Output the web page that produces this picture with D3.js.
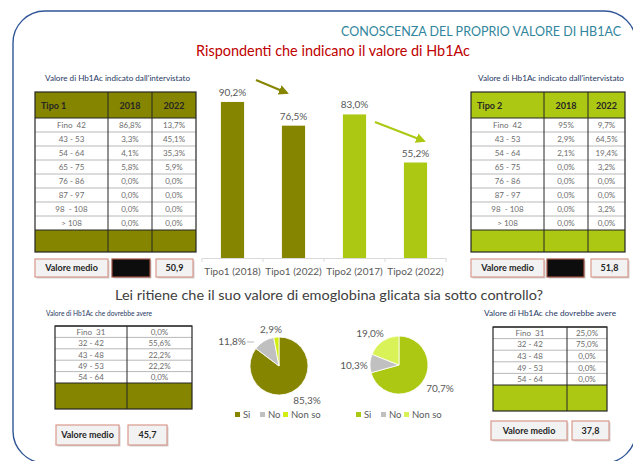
<!DOCTYPE html>
<html>
<head>
<meta charset="utf-8">
<script src="https://cdn.jsdelivr.net/npm/d3@7"></script>
<style>
  html, body { margin: 0; padding: 0; background: #ffffff; }
  svg { display: block; }
  text { font-family: Lato, "Open Sans", sans-serif; }
</style>
</head>
<body>
<svg id="chart" width="633" height="461"></svg>
<script>
// ---- data ----
const barCategories = ["Tipo1 (2018)", "Tipo1 (2022)", "Tipo2 (2017)", "Tipo2 (2022)"];
const barValues = [90.2, 76.5, 83.0, 55.2];
const barLabels = ["90,2%", "76,5%", "83,0%", "55,2%"];

const rangesReported = ["Fino  42", "43 - 53", "54 - 64", "65 - 75", "76 - 86", "87 - 97", "98  - 108", "> 108"];
const tipo1_2018 = ["86,8%", "3,3%", "4,1%", "5,8%", "0,0%", "0,0%", "0,0%", "0,0%"];
const tipo1_2022 = ["13,7%", "45,1%", "35,3%", "5,9%", "0,0%", "0,0%", "0,0%", "0,0%"];
const tipo2_2018 = ["95%", "2,9%", "2,1%", "0,0%", "0,0%", "0,0%", "0,0%", "0,0%"];
const tipo2_2022 = ["9,7%", "64,5%", "19,4%", "3,2%", "0,0%", "0,0%", "3,2%", "0,0%"];
const yearHeaders = ["2018", "2022"];
const meanTipo1 = "50,9";
const meanTipo2 = "51,8";

const rangesTarget = ["Fino  31", "32 - 42", "43 - 48", "49 - 53", "54 - 64"];
const targetTipo1 = ["0,0%", "55,6%", "22,2%", "22,2%", "0,0%"];
const targetTipo2 = ["25,0%", "75,0%", "0,0%", "0,0%", "0,0%"];
const meanTargetTipo1 = "45,7";
const meanTargetTipo2 = "37,8";

const pieCategories = ["Si", "No", "Non so"];
const pieTipo1 = [85.3, 11.8, 2.9];
const pieTipo2 = [70.7, 10.3, 19.0];
const pieLabelsTipo1 = ["85,3%", "11,8%", "2,9%"];
const pieLabelsTipo2 = ["70,7%", "10,3%", "19,0%"];

// ---- palette ----
const OLIVE = "#858500";
const LIME = "#adc813";
const GREY = "#c0c0c0";
const TXT = "#595959";

const svg = d3.select("#chart");

// outer rounded frame
svg.append("rect")
  .attr("x", 13).attr("y", 11).attr("width", 623).attr("height", 452)
  .attr("rx", 32).attr("ry", 32)
  .attr("fill", "none").attr("stroke", "#2f5597").attr("stroke-width", 1.4);

// titles
svg.append("text")
  .attr("x", 621).attr("y", 36).attr("text-anchor", "end")
  .attr("fill", "#31859c").attr("font-size", 12.5)
  .attr("textLength", 280).attr("lengthAdjust", "spacing")
  .text("CONOSCENZA DEL PROPRIO VALORE DI HB1AC");

svg.append("text")
  .attr("x", 333).attr("y", 56).attr("text-anchor", "middle")
  .attr("fill", "#c00000").attr("font-size", 15)
  .attr("textLength", 274).attr("lengthAdjust", "spacingAndGlyphs")
  .text("Rispondenti che indicano il valore di Hb1Ac");

// ---- bar chart ----
const x = d3.scaleBand().domain(barCategories).range([202, 446])
  .paddingInner(0.62).paddingOuter(0.31);
const y = d3.scaleLinear().domain([0, 100]).range([258, 85]);
const barColor = d3.scaleOrdinal().domain(barCategories).range([OLIVE, OLIVE, LIME, LIME]);

const bars = svg.append("g");
bars.selectAll("rect").data(barValues).join("rect")
  .attr("x", (d, i) => x(barCategories[i]))
  .attr("width", x.bandwidth())
  .attr("y", d => y(d))
  .attr("height", d => y(0) - y(d))
  .attr("fill", (d, i) => barColor(barCategories[i]));

bars.selectAll("text").data(barValues).join("text")
  .attr("x", (d, i) => x(barCategories[i]) + x.bandwidth() / 2)
  .attr("y", d => y(d) - 6)
  .attr("text-anchor", "middle")
  .attr("font-family", "Liberation Sans, Arial, sans-serif")
  .attr("font-size", 10).attr("fill", TXT)
  .text((d, i) => barLabels[i]);

const xAxis = svg.append("g").attr("transform", `translate(0,${y(0)})`)
  .call(d3.axisBottom(x).tickSize(0).tickSizeOuter(0).tickPadding(10));
xAxis.select(".domain").attr("stroke", "#d9d9d9");
xAxis.selectAll("text").attr("font-family", "Liberation Sans, Arial, sans-serif")
  .attr("font-size", 10).attr("fill", TXT);
// separators between categories
const step = x.step();
xAxis.selectAll("line.sep").data(d3.range(barCategories.length + 1)).join("line")
  .attr("class", "sep")
  .attr("x1", i => x.range()[0] + i * step).attr("x2", i => x.range()[0] + i * step)
  .attr("y1", 0).attr("y2", 4).attr("stroke", "#d9d9d9");

// trend arrows
const defs = svg.append("defs");
[["arrOlive", OLIVE], ["arrLime", LIME]].forEach(([id, c]) => {
  defs.append("marker").attr("id", id).attr("viewBox", "0 0 10 10")
    .attr("refX", 8).attr("refY", 5).attr("markerWidth", 5).attr("markerHeight", 5)
    .attr("orient", "auto")
    .append("path").attr("d", "M0,0 L10,5 L0,10 z").attr("fill", c);
});
svg.append("line").attr("x1", 256).attr("y1", 80).attr("x2", 287).attr("y2", 93)
  .attr("stroke", OLIVE).attr("stroke-width", 2).attr("marker-end", "url(#arrOlive)");
svg.append("line").attr("x1", 375).attr("y1", 122).attr("x2", 424).attr("y2", 141)
  .attr("stroke", LIME).attr("stroke-width", 2).attr("marker-end", "url(#arrLime)");

// ---- tables ----
function caption(cx, cy, len, txt) {
  svg.append("text").attr("x", cx).attr("y", cy)
    .attr("fill", "#1f3864").attr("font-size", 7)
    .attr("textLength", len).attr("lengthAdjust", "spacingAndGlyphs")
    .text(txt);
}

function boxed(x0, x1, y0, y1, label, fill, stroke, color) {
  const g = svg.append("g");
  g.append("rect").attr("x", x0 + 1.5).attr("y", y0 + 1.5)
    .attr("width", x1 - x0).attr("height", y1 - y0).attr("fill", "#d0d0d0");
  g.append("rect").attr("x", x0).attr("y", y0)
    .attr("width", x1 - x0).attr("height", y1 - y0)
    .attr("fill", fill).attr("stroke", stroke).attr("stroke-width", 1.2);
  if (label) {
    g.append("text").attr("x", (x0 + x1) / 2).attr("y", (y0 + y1) / 2 + 3)
      .attr("text-anchor", "middle").attr("font-size", 9).attr("font-weight", 700)
      .attr("fill", color || "#262626").text(label);
  }
}

// table with header row, body rows and a coloured footer
function drawTable(opt) {
  const g = svg.append("g");
  const cols = opt.cols;                       // column edges
  const row = d3.scaleBand().domain(opt.rows).range([opt.bodyTop, opt.bodyBottom]);
  const left = cols[0], right = cols[cols.length - 1];
  const top = opt.headerTop != null ? opt.headerTop : opt.bodyTop;

  if (opt.headerTop != null) {
    g.append("rect").attr("x", left).attr("y", opt.headerTop)
      .attr("width", right - left).attr("height", opt.bodyTop - opt.headerTop)
      .attr("fill", opt.color);
    g.append("text").attr("x", left + 6).attr("y", (opt.headerTop + opt.bodyTop) / 2 + 3.5)
      .attr("font-size", 9).attr("font-weight", 700).attr("fill", "#262626").text(opt.title);
    opt.headers.forEach((h, j) => {
      g.append("text").attr("x", (cols[j + 1] + cols[j + 2]) / 2)
        .attr("y", (opt.headerTop + opt.bodyTop) / 2 + 3.5)
        .attr("text-anchor", "middle").attr("font-size", 9).attr("font-weight", 700)
        .attr("fill", "#262626").text(h);
    });
  }
  g.append("rect").attr("x", left).attr("y", opt.bodyBottom)
    .attr("width", right - left).attr("height", opt.footBottom - opt.bodyBottom)
    .attr("fill", opt.color);

  // row separators
  g.selectAll("line.r").data(opt.rows.slice(1)).join("line")
    .attr("x1", left).attr("x2", right)
    .attr("y1", d => row(d)).attr("y2", d => row(d))
    .attr("stroke", "#a6a6a6").attr("stroke-width", 0.8);
  g.append("line").attr("x1", left).attr("x2", right)
    .attr("y1", opt.bodyTop).attr("y2", opt.bodyTop).attr("stroke", "#262626");
  g.append("line").attr("x1", left).attr("x2", right)
    .attr("y1", opt.bodyBottom).attr("y2", opt.bodyBottom).attr("stroke", "#262626");
  // column separators and outline
  cols.slice(1, -1).forEach(cx => {
    g.append("line").attr("x1", cx).attr("x2", cx).attr("y1", top).attr("y2", opt.footBottom)
      .attr("stroke", "#262626");
  });
  g.append("rect").attr("x", left).attr("y", top)
    .attr("width", right - left).attr("height", opt.footBottom - top)
    .attr("fill", "none").attr("stroke", "#262626").attr("stroke-width", 1.2);

  // cell text
  const columns = [opt.rows].concat(opt.values);
  columns.forEach((vals, j) => {
    g.selectAll(null).data(vals).join("text")
      .attr("x", (cols[j] + cols[j + 1]) / 2)
      .attr("y", (d, i) => row(opt.rows[i]) + row.bandwidth() / 2 + 3)
      .attr("text-anchor", "middle").attr("font-size", 8).attr("fill", "#6d6d6d")
      .attr("xml:space", "preserve")
      .text(d => d);
  });
}

// reported value tables
caption(45, 81, 145, "Valore di  Hb1Ac indicato dall'intervistato");
drawTable({ cols: [35, 108, 152, 196], headerTop: 92, bodyTop: 118, bodyBottom: 230, footBottom: 252,
  rows: rangesReported, values: [tipo1_2018, tipo1_2022], headers: yearHeaders,
  title: "Tipo 1", color: OLIVE });
boxed(35, 108, 259, 277, "Valore medio", "#f2f2f2", "#d99a8c");
boxed(112, 150, 259, 277, null, "#0d0d0d", "#a05040");
boxed(156, 193, 259, 277, meanTipo1, "#f2f2f2", "#d99a8c");

caption(478, 81, 146, "Valore di  Hb1Ac indicato dall'intervistato");
drawTable({ cols: [471, 544, 588, 625], headerTop: 92, bodyTop: 118, bodyBottom: 230, footBottom: 252,
  rows: rangesReported, values: [tipo2_2018, tipo2_2022], headers: yearHeaders,
  title: "Tipo 2", color: LIME });
boxed(471, 544, 259, 277, "Valore medio", "#f2f2f2", "#d99a8c");
boxed(547, 584, 259, 277, null, "#0d0d0d", "#a05040");
boxed(591, 628, 259, 277, meanTipo2, "#f2f2f2", "#d99a8c");

// question
svg.append("text").attr("x", 329).attr("y", 300).attr("text-anchor", "middle")
  .attr("font-size", 13).attr("fill", "#404040").attr("font-family", "DejaVu Sans, sans-serif")
  .attr("textLength", 428).attr("lengthAdjust", "spacingAndGlyphs")
  .text("Lei ritiene che il suo valore di emoglobina glicata sia sotto controllo?");

// target value tables
caption(46, 316, 106, "Valore di  Hb1Ac che dovrebbe avere");
drawTable({ cols: [55, 127, 192], headerTop: null, bodyTop: 326, bodyBottom: 383, footBottom: 409,
  rows: rangesTarget, values: [targetTipo1], color: OLIVE });
boxed(56, 119, 425, 445, "Valore medio", "#f2f2f2", "#d99a8c");
boxed(128, 167, 425, 445, meanTargetTipo1, "#f2f2f2", "#d99a8c");

caption(484, 316, 132, "Valore di  Hb1Ac che dovrebbe avere");
drawTable({ cols: [493, 567, 607], headerTop: null, bodyTop: 327, bodyBottom: 385, footBottom: 411,
  rows: rangesTarget, values: [targetTipo2], color: LIME });
boxed(491, 567, 421, 440, "Valore medio", "#f2f2f2", "#d99a8c");
boxed(572, 609, 421, 440, meanTargetTipo2, "#f2f2f2", "#d99a8c");

// ---- pies ----
function drawPie(cx, cy, r, values, labels, colors, labelPos, legendX) {
  const color = d3.scaleOrdinal().domain(pieCategories).range(colors);
  const pie = d3.pie().sort(null).value(d => d);
  const arc = d3.arc().innerRadius(0).outerRadius(r);
  const g = svg.append("g").attr("transform", `translate(${cx},${cy})`);
  g.selectAll("path").data(pie(values)).join("path")
    .attr("d", arc).attr("fill", (d, i) => color(pieCategories[i]))
    .attr("stroke", "#ffffff").attr("stroke-width", 0.8);
  labels.forEach((t, i) => {
    g.append("text").attr("x", labelPos[i][0]).attr("y", labelPos[i][1])
      .attr("text-anchor", "middle").attr("font-size", 10)
      .attr("font-family", "Liberation Sans, Arial, sans-serif")
      .attr("fill", TXT).text(t);
  });
  // legend
  const lg = svg.append("g").attr("transform", `translate(${legendX},418)`);
  const offs = [0, 25, 48];
  pieCategories.forEach((c, i) => {
    lg.append("rect").attr("x", offs[i]).attr("y", -6).attr("width", 5).attr("height", 5)
      .attr("fill", color(c));
    lg.append("text").attr("x", offs[i] + 8).attr("y", 0).attr("font-size", 9.5)
      .attr("font-family", "Liberation Sans, Arial, sans-serif").attr("fill", TXT).text(c);
  });
}
drawPie(279, 366, 29, pieTipo1, pieLabelsTipo1, [OLIVE, GREY, "#d2ee10"],
  [[28, 38], [-47, -21], [-8, -33]], 235);
drawPie(399, 365, 29, pieTipo2, pieLabelsTipo2, [LIME, GREY, "#d8f258"],
  [[41, 27], [-45, 4], [-29, -28]], 356);
// leader line for the small slice label
svg.append("line").attr("x1", 247).attr("y1", 342).attr("x2", 254).attr("y2", 342)
  .attr("stroke", "#a6a6a6").attr("stroke-width", 0.8);
</script>
</body>
</html>
